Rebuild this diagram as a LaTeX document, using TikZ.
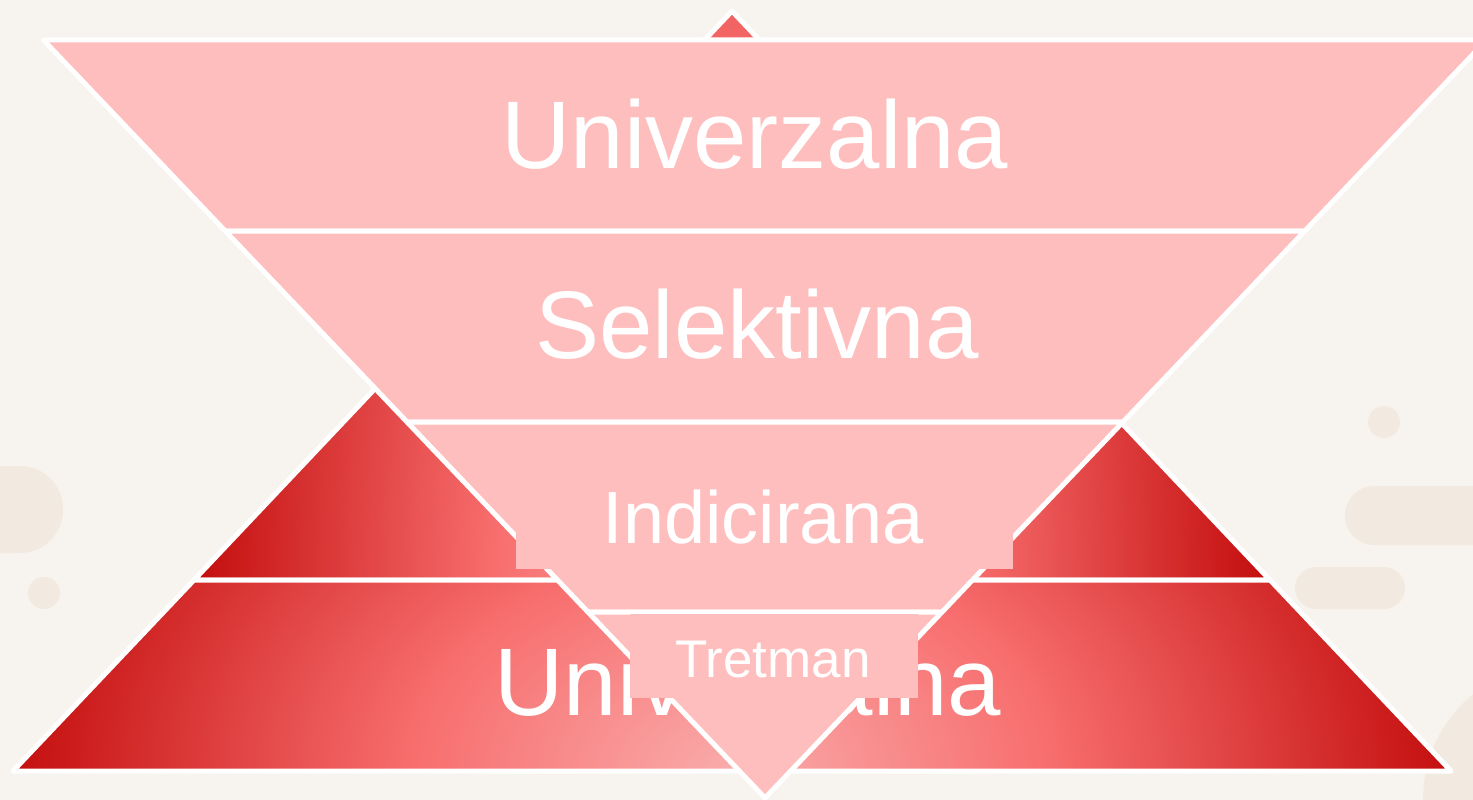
\documentclass[tikz,border=0pt]{standalone}
\usepackage{fontspec}
\setmainfont{Liberation Sans}
\definecolor{bgbeige}{HTML}{F7F3EE}
\definecolor{blob}{HTML}{F2EAE0}
\definecolor{pinklayer}{HTML}{FFBEBE}
\definecolor{redlight}{HTML}{F9ABAB}
\definecolor{redsalmon}{HTML}{F86E6E}
\definecolor{redmid}{HTML}{E04242}
\definecolor{reddark}{HTML}{C40E0E}
\pgfdeclareradialshading{glow}{\pgfpoint{0bp}{0bp}}{color(0bp)=(redlight); color(11bp)=(redsalmon); color(17.5bp)=(redmid); color(25bp)=(reddark); color(50bp)=(reddark)}
\tikzset{
  outline/.style={draw=white, line width=5pt, line join=round},
  pinkband/.style={fill=pinklayer, outline},
  bandtext/.style={text=white, anchor=base, inner sep=0pt}
}
\begin{document}
\begin{tikzpicture}[x=1pt,y=-1pt]
    \fill[bgbeige] (0,0) rectangle (1473,800);
    \useasboundingbox (0,0) rectangle (1473,800);
    % background blobs
    \fill[blob, rounded corners=43pt] (-60,466) rectangle (63,553);
    \fill[blob, rounded corners=29pt] (1345,486) rectangle (1530,545);
    \fill[blob, rounded corners=21pt] (1295,567) rectangle (1405,609);
    \foreach \cx/\cy/\r in {44/593/16, 1384/422/16, 1560/800/137}
        {\fill[blob] (\cx,\cy) circle (\r);
        }
    % upward pyramid
    \coordinate (apex) at (732,11);
    \coordinate (midL) at (194,580);
    \coordinate (midR) at (1270,580);
    \coordinate (baseL) at (13,771);
    \coordinate (baseR) at (1451,771);
    \begin{scope}
        \clip (apex) -- (midR) -- (midL) -- cycle;
        \shade[shading=glow] (731,578) ellipse [x radius=534, y radius=1100];
    \end{scope}
    \draw[outline] (apex) -- (midR) -- (midL) -- cycle;
    \begin{scope}
        \clip (midL) -- (midR) -- (baseR) -- (baseL) -- cycle;
        \shade[shading=glow] (731,771) ellipse [x radius=720, y radius=500];
    \end{scope}
    \draw[outline] (midL) -- (midR) -- (baseR) -- (baseL) -- cycle;
    \node[bandtext, font=\fontsize{96}{96}\selectfont] (backuni) at (748,715) {Univerzalna};
    % inverted pyramid
    \foreach \ya/\yb in {40/231,231/422,422/612,612/798}
        {\draw[pinkband] ({765-0.952*(798-\ya)},\ya) -- ({765+0.952*(798-\ya)},\ya)
            -- ({765+0.952*(798-\yb)},\yb) -- ({765-0.952*(798-\yb)},\yb) -- cycle;
        }
    \fill[pinklayer] (516,461) rectangle (1013,569);
    \fill[pinklayer] (630,614) rectangle (918,698);
    \node[bandtext, font=\fontsize{96}{96}\selectfont] (univ) at (755,168) {Univerzalna};
    \node[bandtext, font=\fontsize{96}{96}\selectfont] (sel) at (757,358) {Selektivna};
    \node[bandtext, font=\fontsize{74}{74}\selectfont] (ind) at (763,543) {Indicirana};
    \node[bandtext, font=\fontsize{53}{53}\selectfont] (tret) at (773,677) {Tretman};
\end{tikzpicture}
\end{document}
